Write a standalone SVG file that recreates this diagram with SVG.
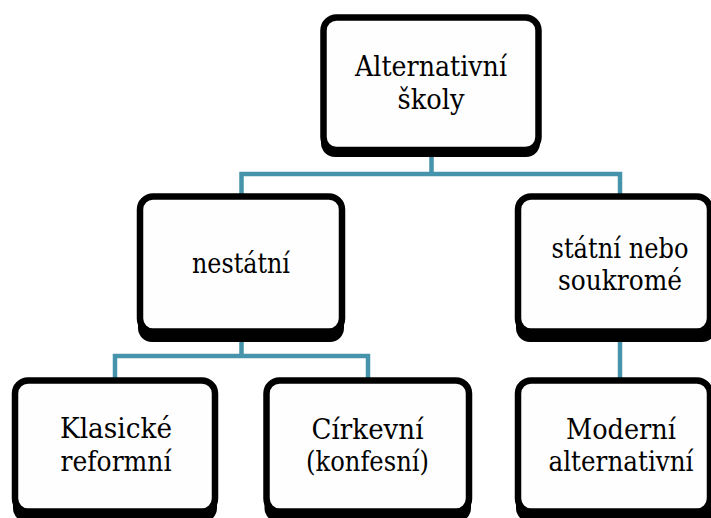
<svg xmlns="http://www.w3.org/2000/svg" width="711" height="518" viewBox="0 0 711 518">
<style>
.box{fill:#fefefe;stroke:#000;stroke-width:6.5}
.shadow{fill:#000}
.t{font-family:'DejaVu Serif','Liberation Serif',serif;font-size:27.5px;fill:#000;text-anchor:middle}
.c{fill:none;stroke:#4594ab;stroke-width:4.5;stroke-linejoin:miter}
</style>
<rect width="711" height="518" fill="#ffffff"/>
<g id="connectors">
<path class="c" d="M431.5 155 V174 M241.5 196 V174 H620 V196"/>
<path class="c" d="M241.5 340 V356 M115 380 V356 H368 V380"/>
<path class="c" d="M620 340 V380"/>
</g>
<g id="node-root">
<rect class="shadow" x="321" y="21" width="219" height="136" rx="14"/>
<rect class="box" x="323.5" y="17.5" width="215" height="132.5" rx="13"/>
<text class="t" x="431" y="76" textLength="152" lengthAdjust="spacingAndGlyphs">Alternativní</text>
<text class="t" x="431" y="109" textLength="67" lengthAdjust="spacingAndGlyphs">školy</text>
</g>
<g id="node-nestatni">
<rect class="shadow" x="138" y="200" width="206" height="142" rx="14"/>
<rect class="box" x="140" y="196.5" width="202" height="135" rx="13"/>
<text class="t" x="241" y="273" textLength="98" lengthAdjust="spacingAndGlyphs">nestátní</text>
</g>
<g id="node-statni">
<rect class="shadow" x="516" y="200" width="200" height="142" rx="14"/>
<rect class="box" x="518" y="196.5" width="192" height="135" rx="13"/>
<text class="t" x="620" y="258" textLength="137" lengthAdjust="spacingAndGlyphs">státní nebo</text>
<text class="t" x="620" y="290" textLength="124" lengthAdjust="spacingAndGlyphs">soukromé</text>
</g>
<g id="node-klasicke">
<rect class="shadow" x="13" y="384" width="204" height="138" rx="14"/>
<rect class="box" x="15" y="380.5" width="200" height="131" rx="13"/>
<text class="t" x="116" y="438" textLength="112" lengthAdjust="spacingAndGlyphs">Klasické</text>
<text class="t" x="116" y="471" textLength="111" lengthAdjust="spacingAndGlyphs">reformní</text>
</g>
<g id="node-cirkevni">
<rect class="shadow" x="264.5" y="384" width="206.5" height="138" rx="14"/>
<rect class="box" x="266.5" y="380.5" width="202.5" height="131" rx="13"/>
<text class="t" x="367.5" y="439" textLength="112" lengthAdjust="spacingAndGlyphs">Církevní</text>
<text class="t" x="367.5" y="471" textLength="123" lengthAdjust="spacingAndGlyphs">(konfesní)</text>
</g>
<g id="node-moderni">
<rect class="shadow" x="516" y="384" width="200" height="138" rx="14"/>
<rect class="box" x="518" y="380.5" width="192" height="131" rx="13"/>
<text class="t" x="621" y="439" textLength="110" lengthAdjust="spacingAndGlyphs">Moderní</text>
<text class="t" x="621" y="471" textLength="145" lengthAdjust="spacingAndGlyphs">alternativní</text>
</g>
</svg>
